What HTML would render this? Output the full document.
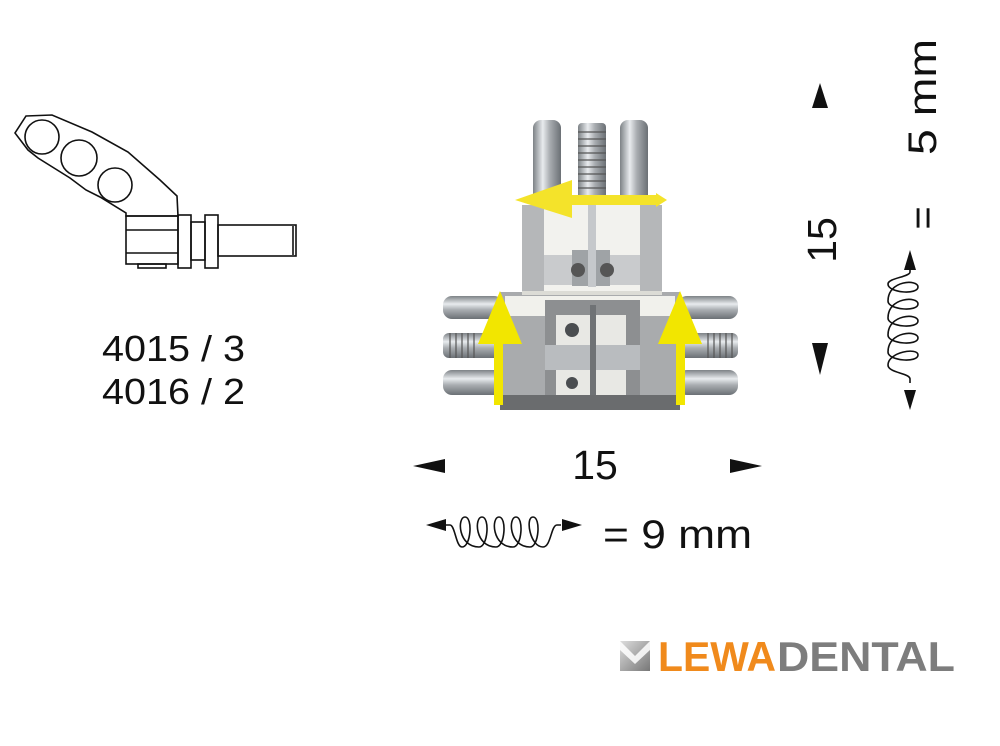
<!DOCTYPE html>
<html><head><meta charset="utf-8"><style>
html,body{margin:0;padding:0;background:#fff;}
svg{display:block;font-family:"Liberation Sans",Arial,sans-serif;}
</style></head><body>
<svg width="1000" height="746" viewBox="0 0 1000 746" xmlns="http://www.w3.org/2000/svg">
<defs>
<linearGradient id="rodV" x1="0" x2="1" y1="0" y2="0">
<stop offset="0" stop-color="#7d8286"/><stop offset="0.35" stop-color="#e8ebee"/><stop offset="0.6" stop-color="#a9adb1"/><stop offset="1" stop-color="#6b7075"/></linearGradient>
<linearGradient id="rodH" x1="0" x2="0" y1="0" y2="1">
<stop offset="0" stop-color="#7d8286"/><stop offset="0.35" stop-color="#e8ebee"/><stop offset="0.6" stop-color="#a9adb1"/><stop offset="1" stop-color="#6b7075"/></linearGradient>
<linearGradient id="logoG" x1="0" x2="1" y1="0" y2="1"><stop offset="0" stop-color="#ddd"/><stop offset="1" stop-color="#777"/></linearGradient>
<path id="spr" d="M0,0 h4 c5,0 6,22 12,22 c9,0 11,-30 3,-30 c-8,0 -7,30 14,30 c9,0 11,-30 3,-30 c-8,0 -7,30 14,30 c9,0 11,-30 3,-30 c-8,0 -7,30 14,30 c9,0 11,-30 3,-30 c-8,0 -7,30 14,30 c9,0 11,-30 3,-30 c-8,0 -3,30 10,30 c8,0 8,-22 14,-22 h4" fill="none" stroke="#111" stroke-width="1.6"/>
</defs>

<!-- left drawing -->
<g fill="none" stroke="#111" stroke-width="1.6">
<path d="M26,116 L52,115 L92,132 L128,152 L160,180 L177,196 L178,216 L126,216 L126,213 L100,197 L86,190 L70,178 L38,158 L28,150 L15,133 Z"/>
<circle cx="42" cy="137" r="17"/><circle cx="79" cy="158" r="18"/><circle cx="115" cy="185" r="17"/>
<rect x="126" y="216" width="52" height="48"/>
<line x1="126" y1="230" x2="178" y2="230"/><line x1="126" y1="253" x2="178" y2="253"/>
<rect x="178" y="215" width="13" height="53"/>
<rect x="191" y="222" width="14" height="38"/>
<rect x="205" y="215" width="13" height="53"/>
<rect x="218" y="225" width="78" height="31"/>
<line x1="293" y1="226" x2="293" y2="255"/>
<rect x="138" y="264" width="28" height="4"/>
</g>
<text x="102" y="361" font-size="36" fill="#111" textLength="143" lengthAdjust="spacingAndGlyphs">4015 / 3</text>
<text x="102" y="404" font-size="36" fill="#111" textLength="143" lengthAdjust="spacingAndGlyphs">4016 / 2</text>

<!-- device -->
<g>
<rect x="443" y="296" width="60" height="23" rx="9" fill="url(#rodH)"/>
<rect x="443" y="370" width="60" height="25" rx="9" fill="url(#rodH)"/>
<rect x="443" y="333" width="60" height="25" rx="6" fill="url(#rodH)"/>
<rect x="678" y="296" width="60" height="23" rx="9" fill="url(#rodH)"/>
<rect x="678" y="370" width="60" height="25" rx="9" fill="url(#rodH)"/>
<rect x="678" y="333" width="60" height="25" rx="6" fill="url(#rodH)"/>
<g stroke="#555" stroke-width="1.2">
<path d="M450,333v25M456,333v25M462,333v25M468,333v25M474,333v25M714,333v25M720,333v25M726,333v25M732,333v25M708,333v25"/>
</g>
<rect x="533" y="120" width="28" height="85" rx="8" fill="url(#rodV)"/>
<rect x="620" y="120" width="28" height="85" rx="8" fill="url(#rodV)"/>
<rect x="578" y="123" width="28" height="82" rx="4" fill="url(#rodV)"/>
<g stroke="#555" stroke-width="1.2"><path d="M578,132h28M578,139h28M578,146h28M578,153h28M578,160h28M578,167h28M578,174h28M578,181h28M578,188h28"/></g>
<rect x="500" y="292" width="180" height="118" fill="#a9abad"/>
<rect x="505" y="296" width="170" height="20" fill="#f1f1ec"/>
<rect x="545" y="300" width="95" height="110" fill="#8d8f91"/>
<rect x="556" y="315" width="70" height="80" fill="#e8e8e4"/>
<rect x="545" y="345" width="95" height="25" fill="#b9bcbf"/>
<rect x="590" y="305" width="6" height="105" fill="#6f7275"/>
<rect x="500" y="395" width="180" height="15" fill="#6a6c6e"/>
<circle cx="572" cy="330" r="7" fill="#4a4d50"/><circle cx="572" cy="383" r="6" fill="#4a4d50"/>
<rect x="522" y="205" width="140" height="88" fill="#f2f2ee"/>
<rect x="522" y="205" width="22" height="88" fill="#b5b7b9"/>
<rect x="640" y="205" width="22" height="88" fill="#b5b7b9"/>
<rect x="544" y="255" width="96" height="30" fill="#c9cbcd"/>
<rect x="572" y="250" width="38" height="36" fill="#9fa3a6"/>
<rect x="588" y="205" width="8" height="82" fill="#c5c8cb"/>
<circle cx="578" cy="270" r="7" fill="#555"/><circle cx="607" cy="270" r="7" fill="#555"/>
<rect x="522" y="291" width="140" height="4" fill="#dcdcd6"/>
<polygon points="515,200 572,180 572,218" fill="#f4e32a"/>
<rect x="570" y="195" width="86" height="10" fill="#f4e32a"/>
<polygon points="656,193 667,200 656,207" fill="#f4e32a"/>
<rect x="494" y="342" width="9" height="63" fill="#f2e600"/>
<polygon points="500,291 478,344 522,344" fill="#f2e600"/>
<rect x="676" y="342" width="9" height="63" fill="#f2e600"/>
<polygon points="680,291 658,344 702,344" fill="#f2e600"/>
</g>

<!-- bottom dimension -->
<polygon points="413,466 445,459 445,473" fill="#111"/>
<polygon points="762,466 730,459 730,473" fill="#111"/>
<text x="595" y="479" font-size="41" fill="#111" text-anchor="middle">15</text>
<polygon points="426,525 446,519 446,531" fill="#111"/>
<polygon points="582,525 562,519 562,531" fill="#111"/>
<use href="#spr" transform="translate(446,525)"/>
<text x="603" y="548" font-size="40" fill="#111" textLength="149" lengthAdjust="spacingAndGlyphs">= 9 mm</text>

<!-- right dimension -->
<polygon points="820,83 812,108 828,108" fill="#111"/>
<polygon points="820,375 812,343 828,343" fill="#111"/>
<text transform="translate(836,240) rotate(-90)" font-size="41" fill="#111" text-anchor="middle">15</text>
<text transform="translate(936,97) rotate(-90)" font-size="40" fill="#111" text-anchor="middle" textLength="116" lengthAdjust="spacingAndGlyphs">5 mm</text>
<text transform="translate(936,218) rotate(-90)" font-size="40" fill="#111" text-anchor="middle">=</text>
<polygon points="910,250 904,270 916,270" fill="#111"/>
<polygon points="910,410 904,390 916,390" fill="#111"/>
<use href="#spr" transform="translate(910,268) rotate(90)"/>

<!-- logo -->
<polygon points="620,641 650,641 650,671 620,671" fill="url(#logoG)"/>
<polygon points="620,641 635,656 650,641 650,650 635,664 620,650" fill="#fff" opacity="0.85"/>
<text x="658" y="671" font-size="42" font-weight="bold" fill="#f08a1c" textLength="118" lengthAdjust="spacingAndGlyphs">LEWA</text>
<text x="777" y="671" font-size="42" font-weight="bold" fill="#7d7d7d" textLength="178" lengthAdjust="spacingAndGlyphs">DENTAL</text>
</svg>
</body></html>
